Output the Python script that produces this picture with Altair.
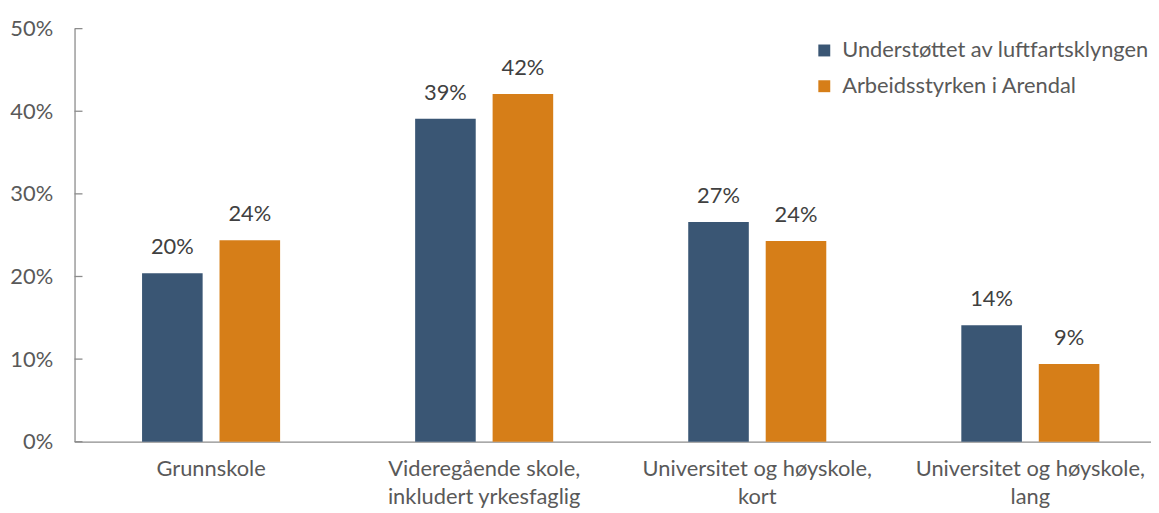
import altair as alt
import pandas as pd

categories = [
    "Grunnskole",
    "Videregående skole, inkludert yrkesfaglig",
    "Universitet og høyskole, kort",
    "Universitet og høyskole, lang",
]
series = ["Understøttet av luftfartsklyngen", "Arbeidsstyrken i Arendal"]
klynge = [0.204, 0.391, 0.266, 0.141]
arendal = [0.244, 0.421, 0.243, 0.094]
y_ticks = [0, 0.1, 0.2, 0.3, 0.4, 0.5]
colors = ["#3A5674", "#D67E18"]

rows = []
for c, a, b in zip(categories, klynge, arendal):
    rows.append({"kategori": c, "serie": series[0], "andel": a})
    rows.append({"kategori": c, "serie": series[1], "andel": b})
df = pd.DataFrame(rows)

FONT = "Lato"
FS = 22
AXIS_COLOR = "#8c8c8c"
LABEL_COLOR = "#595959"

x_enc = alt.X(
    "kategori:N",
    sort=categories,
    scale=alt.Scale(range=[0, 1100], paddingInner=0.4945, paddingOuter=0.24725),
    axis=alt.Axis(
        title=None,
        labelAngle=0,
        ticks=False,
        domainColor=AXIS_COLOR,
        domainWidth=1.3,
        labelFont=FONT,
        labelFontSize=FS,
        labelColor=LABEL_COLOR,
        labelPadding=17,
        labelLineHeight=28,
        labelLimit=0,
        labelExpr="split(replace(datum.label, ', ', ',|'), '|')",
    ),
)
xoff_enc = alt.XOffset(
    "serie:N", sort=series, scale=alt.Scale(paddingInner=0.218, paddingOuter=0)
)
y_enc = alt.Y(
    "andel:Q",
    scale=alt.Scale(domain=[0, 0.5]),
    axis=alt.Axis(
        title=None,
        format=".0%",
        values=y_ticks,
        ticks=False,
        grid=False,
        domainColor=AXIS_COLOR,
        domainWidth=1.3,
        labelFont=FONT,
        labelFontSize=FS,
        labelColor=LABEL_COLOR,
        labelPadding=22,
    ),
)

base = alt.Chart(df)

bars = base.mark_bar().encode(
    x=x_enc,
    xOffset=xoff_enc,
    y=y_enc,
    color=alt.Color(
        "serie:N",
        sort=series,
        scale=alt.Scale(domain=series, range=colors),
        legend=alt.Legend(
            title=None,
            orient="none",
            legendX=744,
            legendY=11,
            symbolType="square",
            symbolSize=144,
            symbolStrokeWidth=0,
            labelFont=FONT,
            labelFontSize=FS,
            labelColor=LABEL_COLOR,
            labelOffset=7,
            rowPadding=14,
            labelLimit=0,
        ),
    ),
)

labels = base.mark_text(
    dy=-19, baseline="alphabetic", fontSize=FS, color="#404040", font=FONT
).encode(
    x=x_enc,
    xOffset=xoff_enc,
    y=y_enc,
    text=alt.Text("andel:Q", format=".0%"),
)

ticks = (
    alt.Chart(pd.DataFrame({"andel": y_ticks}))
    .mark_rule(color=AXIS_COLOR, strokeWidth=1.3)
    .encode(y=y_enc, x=alt.value(0), x2=alt.value(8))
)

chart = (
    alt.layer(bars, labels, ticks)
    .properties(
        width=1076,
        height=416,
        autosize=alt.AutoSizeParams(type="none"),
        padding={"left": 67, "top": 19, "right": 8, "bottom": 70},
    )
    .configure_view(stroke=None)
)

chart.save("out.html", embed_options={"renderer": "svg", "actions": False})
